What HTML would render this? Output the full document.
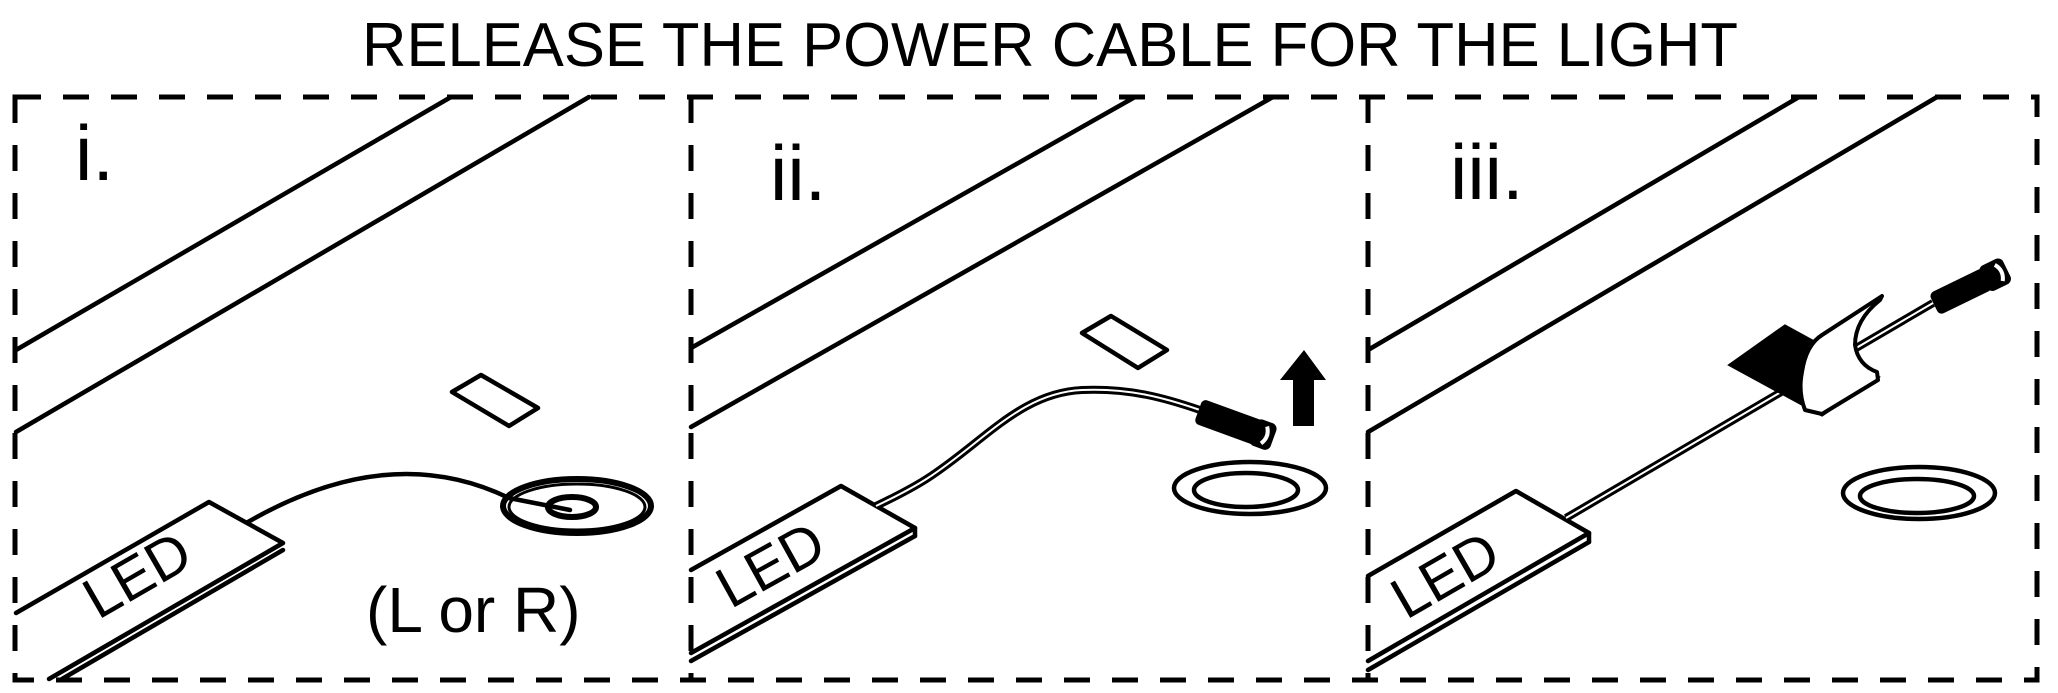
<!DOCTYPE html>
<html><head><meta charset="utf-8"><style>
html,body{margin:0;padding:0;background:#fff;overflow:hidden;}
svg{display:block;}
</style></head><body>
<svg width="2058" height="693" viewBox="0 0 2058 693" xmlns="http://www.w3.org/2000/svg">
<rect width="2058" height="693" fill="#fff"/>
<text x="1050" y="66" text-anchor="middle" font-family="Liberation Sans, sans-serif" font-size="62" textLength="1376" lengthAdjust="spacingAndGlyphs" fill="#000">RELEASE THE POWER CABLE FOR THE LIGHT</text>

<g fill="none" stroke="#000" stroke-width="5" stroke-dasharray="26 22">
<rect x="15" y="97" width="2022" height="583"/>
<line x1="691" y1="97" x2="691" y2="680"/>
<line x1="1368" y1="97" x2="1368" y2="680"/>
</g>

<g fill="none" stroke="#000" stroke-width="4.5" stroke-linejoin="round" stroke-linecap="round">
<!-- panel 1 -->
<line x1="451" y1="97" x2="16" y2="350"/>
<line x1="589" y1="97" x2="16" y2="432"/>
<polygon points="452,392 481,375 538,408 509,426"/>
<path d="M16,613 L209,502 L283,543 L49,679"/>
<line x1="283" y1="550" x2="62" y2="679"/>
<path d="M248,522 Q390,440 509,498 L570,510"/>
<g stroke-width="6">
<ellipse cx="577" cy="506" rx="74" ry="27"/>
<ellipse cx="577" cy="507" rx="68" ry="23" stroke-width="3"/>
<ellipse cx="572" cy="507" rx="24" ry="10"/>
</g>
<!-- panel 2 -->
<line x1="1135" y1="97" x2="691" y2="348"/>
<line x1="1273" y1="97" x2="691" y2="427"/>
<polygon points="1082,333 1111,316 1167,350 1138,368"/>
<path d="M691,570 L841,486 L915,528 L691,653"/>
<line x1="915" y1="536" x2="691" y2="661"/>
<line x1="915" y1="528" x2="915" y2="536"/>
<ellipse cx="1250" cy="488" rx="76" ry="26"/>
<ellipse cx="1246" cy="490" rx="52" ry="17"/>
<!-- panel 3 -->
<line x1="1799" y1="97" x2="1368" y2="350"/>
<line x1="1937" y1="97" x2="1368" y2="432"/>
<path d="M1368,576 L1516,491 L1589,533 L1368,661"/>
<line x1="1589" y1="542" x2="1368" y2="670"/>
<line x1="1589" y1="533" x2="1589" y2="542"/>
<ellipse cx="1919" cy="493" rx="76" ry="26"/>
<ellipse cx="1917" cy="496" rx="57" ry="17"/>
</g>

<!-- panel 2 cable -->
<path d="M876,506 C920,485 935,475 975,443 C1010,415 1040,392 1082,390 C1130,388 1165,398 1200,410" fill="none" stroke="#000" stroke-width="8"/>
<path d="M876,506 C920,485 935,475 975,443 C1010,415 1040,392 1082,390 C1130,388 1165,398 1200,410" fill="none" stroke="#fff" stroke-width="2"/>
<g transform="translate(1234,424) rotate(20)">
<rect x="-38" y="-13" width="66" height="26" rx="5" fill="#000"/>
<rect x="20" y="-14" width="22" height="28" rx="6" fill="#000"/>
<path d="M32,-9 Q38,0 32,9" fill="none" stroke="#fff" stroke-width="4"/>
</g>
<polygon points="1293,426 1314,426 1314,380 1326,380 1304,350 1280,380 1293,380" fill="#000"/>

<!-- panel 3 cable -->
<path d="M1566,518 L1933,303" stroke="#000" stroke-width="8"/>
<path d="M1566,518 L1933,303" stroke="#fff" stroke-width="2"/>
<g transform="translate(1970,287) rotate(-26)">
<rect x="-40" y="-12" width="60" height="24" rx="5" fill="#000"/>
<rect x="15" y="-14" width="26" height="28" rx="6" fill="#000"/>
<path d="M32,-9 Q38,0 32,9" fill="none" stroke="#fff" stroke-width="4"/>
</g>
<polygon points="1730,365 1785,326 1878,377 1822,415" fill="#000" stroke="#000" stroke-width="3"/>
<path d="M1805,410 Q1798,392 1802,372 Q1806,345 1822,335 L1882,296 L1880,300 Q1855,320 1855,345 Q1858,365 1877,372 L1878,380 L1822,414 Z" fill="#fff" stroke="#000" stroke-width="4" stroke-linejoin="round"/>

<!-- labels -->
<g font-family="Liberation Sans, sans-serif" fill="#000">
<text x="75" y="180" font-size="78">i.</text>
<text x="770" y="200" font-size="78">ii.</text>
<text x="1450" y="199" font-size="78">iii.</text>
<text x="366" y="632" font-size="64">(L or R)</text>
<text transform="translate(147,592) rotate(-30)" text-anchor="middle" font-size="58">LED</text>
<text transform="translate(780,582) rotate(-29)" text-anchor="middle" font-size="58">LED</text>
<text transform="translate(1455,592) rotate(-30)" text-anchor="middle" font-size="58">LED</text>
</g>
</svg>
</body></html>
